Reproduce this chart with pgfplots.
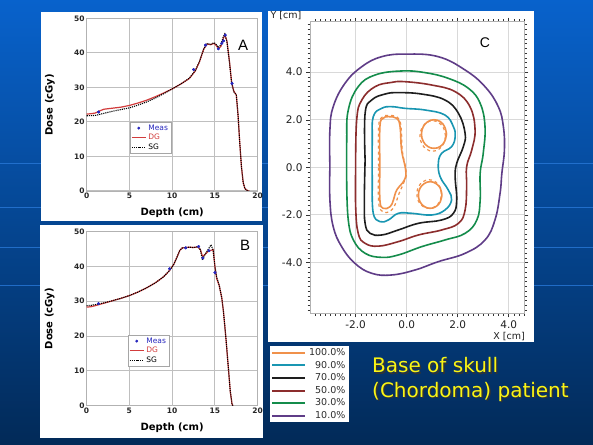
\documentclass[border=0pt]{standalone}
\usepackage{pgfplots}
\pgfplotsset{compat=1.18}
\usepackage{fontspec}
\setmainfont{Liberation Sans}
\newfontfamily\dejavu{DejaVu Sans}
\definecolor{bgtop}{RGB}{8,98,204}
\definecolor{bgbot}{RGB}{2,42,88}
\definecolor{bgline}{RGB}{40,120,215}
\definecolor{dgred}{RGB}{210,60,60}
\definecolor{measblue}{RGB}{40,40,190}
\definecolor{cOrange}{RGB}{240,145,75}
\definecolor{cTeal}{RGB}{25,150,178}
\definecolor{cBlack}{RGB}{30,30,30}
\definecolor{cBrown}{RGB}{140,45,45}
\definecolor{cGreen}{RGB}{20,140,75}
\definecolor{cPurple}{RGB}{95,60,135}
\definecolor{txtyellow}{RGB}{250,245,20}
\pgfplotsset{
  ddplot/.style={
    scale only axis, anchor=south west,
    xmin=0,xmax=20,ymin=0,ymax=50,
    xtick={0,5,10,15,20}, ytick={0,10,20,30,40,50},
    xmajorgrids=true, ymajorgrids=true,
    major grid style={gray!50,line width=1pt},
    axis line style={gray!60, line width=0.8pt},
    major tick length=3pt, tick style={draw=none},
    /pgf/number format/assume math mode=true,
    tick label style={font=\dejavu\bfseries\fontsize{7.5}{9}\selectfont, text=black!85},
    xticklabel style={yshift=1.5pt}, yticklabel style={xshift=1.5pt},
    xlabel={Depth (cm)}, ylabel={Dose (cGy)},
    label style={font=\dejavu\bfseries\fontsize{10}{12}\selectfont},
    xlabel style={at={(axis description cs:0.5,0)}, anchor=center, yshift=-22pt},
    ylabel style={at={(axis description cs:-0.215,0.5)}, anchor=center},
    legend style={font=\dejavu\fontsize{7.5}{9}\selectfont, draw=gray!70, fill=white, inner xsep=1pt, inner ysep=0.5pt, row sep=-1.5pt, anchor=north west, cells={anchor=west}},
    legend image code/.code={\draw[mark repeat=2,mark phase=2,##1] plot coordinates {(0pt,0pt) (7pt,0pt) (14pt,0pt)};},
  },
  dg/.style={dgred, line width=1.2pt, no marks},
  sg/.style={black, densely dotted, line width=1.1pt, no marks},
  meas/.style={measblue, only marks, mark=*, mark size=1.2pt},
  cont/.style={line width=1.6pt, smooth, tension=0.7, no marks},
  contd/.style={line width=1.2pt, smooth, tension=0.7, dashed, no marks, forget plot},
}
\newcommand\vgrid{\pgfplotsinvokeforeach{5,10,15}{\draw[gray!50, line width=1pt] (axis cs:##1,0) -- (axis cs:##1,50);}}
\begin{document}
\begin{tikzpicture}
\useasboundingbox (0,0) rectangle (593pt,444pt);
\shade[top color=bgtop, bottom color=bgbot] (0,0) rectangle (593pt,444pt);
\foreach \yy in {159,197,237,281} \draw[bgline, line width=0.8pt, opacity=0.8] (0,\yy pt) -- (593pt,\yy pt);
\fill[white] (41pt,223pt) rectangle (262pt,432pt);
\fill[white] (40pt,6pt) rectangle (263pt,219pt);
\fill[white] (268pt,102pt) rectangle (534pt,433pt);

% ---------------- Panel A
\begin{axis}[ddplot, at={(86.7pt,253pt)}, width=171pt, height=172.5pt,
  legend style={at={(axis description cs:0.253,0.40)}}]
\vgrid
\addplot[meas] coordinates {(1.4,22.9) (12.5,35.2) (13.9,42.3) (15.4,41.2) (15.8,42.8) (16.0,43.5) (16.2,45.2) (17.0,31.2)};
\addlegendentry{\textcolor{measblue}{Meas}}
\addplot[dg] coordinates {(0,22.3) (0.5,22.4) (1,22.6) (1.5,23.2) (2,23.7) (3,24.0) (4,24.3) (5,24.8) (6,25.5) (7,26.3) (8,27.3) (9,28.4) (10,29.6) (11,31.0) (12,32.6) (12.7,34.8) (13.2,37.5) (13.7,41.2) (14.1,42.6) (14.5,42.4) (14.9,42.8) (15.2,42.0) (15.4,41.3) (15.7,41.9) (15.95,44.0) (16.15,45.3) (16.4,43.5) (16.7,37.5) (16.95,31.5) (17.2,29.0) (17.5,27.8) (17.7,22) (17.9,14) (18.1,7) (18.3,2.5) (18.5,0.7) (18.8,0.1) (19,0)};
\addlegendentry{\textcolor{dgred}{DG}}
\addplot[sg] coordinates {(0,21.8) (1,21.9) (2,22.5) (3,23.1) (4,23.6) (5,24.1) (6,24.9) (7,25.8) (8,26.9) (9,28.2) (10,29.6) (11,31.0) (12,32.7) (12.7,34.9) (13.2,37.6) (13.7,41.3) (14.1,42.7) (14.5,42.5) (14.9,43.0) (15.2,42.3) (15.4,41.6) (15.7,42.4) (15.95,44.5) (16.15,45.5) (16.4,43.3) (16.7,37.3) (16.95,31.3) (17.2,28.8) (17.5,27.8) (17.7,22) (17.9,14) (18.1,7) (18.3,2.5) (18.5,0.7) (18.8,0.1) (19,0)};
\addlegendentry{SG}
\addplot[meas, forget plot] coordinates {(1.4,22.9) (12.5,35.2) (13.9,42.3) (15.4,41.2) (15.8,42.8) (16.0,43.5) (16.2,45.2) (17.0,31.2)};
\end{axis}

% ---------------- Panel B
\begin{axis}[ddplot, at={(86.5pt,38.3pt)}, width=171.2pt, height=174.2pt,
  legend style={at={(axis description cs:0.242,0.406)}}]
\vgrid
\addplot[meas] coordinates {(1.4,29.3) (9.7,39.3) (11.6,45.3) (13.1,45.7) (13.6,42.4) (14.3,44.5) (15.0,38.2)};
\addlegendentry{\textcolor{measblue}{Meas}}
\addplot[dg] coordinates {(0,28.3) (0.5,28.4) (1,28.7) (2,29.4) (3,30.1) (4,30.8) (5,31.6) (6,32.6) (7,33.8) (8,35.2) (9,37.0) (9.7,38.8) (10.2,40.6) (10.6,42.8) (10.9,44.6) (11.2,45.3) (12,45.5) (12.5,45.4) (13,45.6) (13.3,44.8) (13.55,42.9) (13.8,43.3) (14.2,44.3) (14.8,44.8) (15.0,40) (15.2,36.5) (15.5,34.5) (15.8,31) (16.0,27) (16.3,19) (16.6,10) (16.8,4) (17.0,0.5) (17.1,0)};
\addlegendentry{\textcolor{dgred}{DG}}
\addplot[sg] coordinates {(0,28.7) (0.5,28.8) (1,29.0) (2,29.5) (3,30.1) (4,30.8) (5,31.6) (6,32.6) (7,33.8) (8,35.2) (9,37.0) (9.7,38.8) (10.2,40.6) (10.6,42.8) (10.9,44.6) (11.2,45.3) (12,45.5) (12.5,45.4) (13,45.6) (13.3,44.8) (13.55,41.8) (13.8,43.2) (14.2,44.8) (14.55,46.2) (14.8,44.5) (15.0,40) (15.2,37.0) (15.5,34.6) (15.8,31) (16.0,27) (16.3,19) (16.6,10) (16.8,4) (17.0,0.5) (17.1,0)};
\addlegendentry{SG}
\addplot[meas, forget plot] coordinates {(1.4,29.3) (9.7,39.3) (11.6,45.3) (13.1,45.7) (13.6,42.4) (14.3,44.5) (15.0,38.2)};
\end{axis}

% ---------------- Panel C
\begin{axis}[at={(310pt,130.7pt)}, anchor=south west, scale only axis,
  width=214.3pt, height=291.6pt,
  xmin=-3.79, xmax=4.61, ymin=-6.13, ymax=6.12,
  xtick={-2,0,2,4}, xticklabels={-2.0,0.0,2.0,4.0},
  ytick={-4,-2,0,2,4}, yticklabels={-4.0,-2.0,0.0,2.0,4.0},
  minor xtick={-3.6,-3.4,...,4.6}, minor ytick={-6,-5.8,...,6},
  grid=major, major grid style={gray!30, line width=1pt},
  tick align=outside, major tick length=4pt, minor tick length=2.5pt,
  tick style={gray!40!black, line width=0.5pt},
  axis line style={gray!60, line width=0.6pt},
  /pgf/number format/assume math mode=true,
  tick label style={font=\dejavu\fontsize{10.5}{12}\selectfont, text=gray!25!black},
  legend style={at={(axis description cs:-0.187,-0.112)}, anchor=north west, draw=none, fill=white,
    font=\dejavu\fontsize{9.5}{10}\selectfont, text=gray!35!black, inner xsep=1pt, inner ysep=0.5pt, row sep=0pt,
    nodes={inner xsep=3pt, inner ysep=2pt}},
  legend cell align=right,
  legend image code/.code={\draw[#1, solid, line width=2pt] (0pt,0pt) -- (33pt,0pt);},
]
\addplot[cont, cOrange] coordinates {(-1.05,0.03) (-1.05,1.71) (-0.92,2.06) (-0.72,2.13) (-0.39,2.06) (-0.26,1.71) (-0.2,0.73) (-0.04,-0.11) (-0.09,-0.53) (-0.39,-0.95) (-0.52,-1.37) (-0.65,-1.65) (-0.92,-1.72) (-1.05,-1.37) (-1.05,0.03)};
\addlegendentry{100.0\%}
\addplot[cont, cTeal] coordinates {(-1.35,-0.81) (-1.35,1.15) (-1.31,2.13) (-0.98,2.48) (-0.59,2.55) (-0.07,2.48) (0.72,2.41) (1.50,2.20) (1.83,1.71) (1.90,1.29) (1.76,0.87) (1.37,0.59) (1.24,0.17) (1.31,-0.39) (1.63,-0.95) (1.76,-1.37) (1.50,-1.79) (0.98,-2.0) (0.2,-1.93) (-0.33,-1.93) (-0.72,-2.21) (-1.05,-2.28) (-1.31,-1.93) (-1.35,-0.81)};
\addlegendentry{90.0\%}
\addplot[cont, cBlack] coordinates {(-1.63,0.31) (-1.63,2.27) (-1.37,2.83) (-0.85,3.08) (-0.33,3.14) (0.59,3.08) (1.50,2.83) (2.03,2.27) (2.29,1.43) (2.22,0.87) (1.96,0.17) (1.90,-0.39) (1.96,-1.37) (1.83,-1.93) (1.37,-2.21) (0.46,-2.35) (-0.33,-2.63) (-0.98,-2.84) (-1.44,-2.77) (-1.63,-2.35) (-1.66,-1.37) (-1.63,0.31)};
\addlegendentry{70.0\%}
\addplot[cont, cBrown] coordinates {(-2.0,0.03) (-1.96,1.99) (-1.76,2.83) (-1.24,3.39) (-0.59,3.57) (-0.07,3.60) (0.98,3.46) (1.90,3.18) (2.48,2.55) (2.68,1.57) (2.55,0.73) (2.35,0.03) (2.35,-0.81) (2.29,-1.79) (2.03,-2.35) (1.37,-2.63) (0.46,-2.84) (-0.33,-3.12) (-1.11,-3.31) (-1.63,-3.19) (-1.90,-2.77) (-2.0,-1.65) (-2.0,0.03)};
\addlegendentry{50.0\%}
\addplot[cont, cGreen] coordinates {(-2.35,-0.81) (-2.35,1.15) (-2.29,2.41) (-1.90,3.39) (-1.24,3.88) (-0.2,4.05) (0.72,3.98) (1.63,3.74) (2.42,3.32) (2.88,2.69) (3.07,1.71) (3.0,0.59) (2.88,-0.25) (2.88,-1.37) (2.75,-2.21) (2.29,-2.77) (1.50,-3.05) (0.59,-3.33) (-0.33,-3.68) (-0.98,-3.78) (-1.63,-3.61) (-2.09,-3.05) (-2.29,-2.21) (-2.35,-0.81)};
\addlegendentry{30.0\%}
\addplot[cont, cPurple] coordinates {(-3.01,0.03) (-3.01,1.57) (-2.88,2.55) (-2.42,3.53) (-1.76,4.23) (-0.98,4.65) (0,4.76) (1.24,4.65) (2.29,4.09) (3.07,3.39) (3.59,2.55) (3.79,1.71) (3.83,0.73) (3.73,-0.25) (3.66,-1.09) (3.46,-2.21) (3.07,-3.05) (2.29,-3.61) (1.24,-3.96) (0.33,-4.31) (-0.59,-4.52) (-1.37,-4.45) (-2.03,-4.03) (-2.55,-3.33) (-2.88,-2.49) (-3.01,-1.37) (-3.01,0.03)};
\addlegendentry{10.0\%}
\addplot[cont, cOrange, forget plot] coordinates {(1.56,1.40) (1.49,1.70) (1.32,1.92) (1.07,2.0) (0.825,1.92) (0.646,1.70) (0.58,1.40) (0.646,1.10) (0.825,0.88) (1.07,0.80) (1.32,0.88) (1.49,1.10) (1.56,1.40)};
\addplot[cont, cOrange, forget plot] coordinates {(1.38,-1.16) (1.32,-0.88) (1.15,-0.68) (0.92,-0.60) (0.69,-0.68) (0.52,-0.88) (0.46,-1.16) (0.52,-1.44) (0.69,-1.645) (0.92,-1.72) (1.15,-1.645) (1.32,-1.44) (1.38,-1.16)};
\addplot[contd, cOrange] coordinates {(-1.1,0.03) (-1.1,1.7) (-0.97,2.1) (-0.75,2.18) (-0.36,2.1) (-0.22,1.7) (-0.17,0.7) (-0.02,-0.2) (-0.1,-0.6) (-0.3,-1.1) (-0.45,-1.55) (-0.65,-1.85) (-0.95,-1.85) (-1.1,-1.45) (-1.1,0.03)};
\addplot[contd, cOrange] coordinates {(1.52,1.32) (1.45,1.64) (1.27,1.87) (1.02,1.96) (0.77,1.87) (0.59,1.64) (0.52,1.32) (0.59,1.0) (0.77,0.77) (1.02,0.68) (1.27,0.77) (1.45,1.0) (1.52,1.32)};
\addplot[contd, cOrange] coordinates {(1.36,-1.12) (1.30,-0.82) (1.12,-0.60) (0.88,-0.52) (0.64,-0.60) (0.46,-0.82) (0.40,-1.12) (0.46,-1.42) (0.64,-1.64) (0.88,-1.72) (1.12,-1.64) (1.30,-1.42) (1.36,-1.12)};
\end{axis}

% labels
\node[font=\fontsize{15}{15}\selectfont] at (243pt,399pt) {A};
\node[font=\fontsize{15}{15}\selectfont] at (245pt,199pt) {B};
\node[font=\fontsize{14}{14}\selectfont] at (485pt,401pt) {C};
\node[font=\dejavu\fontsize{9.5}{10}\selectfont, text=gray!25!black] at (286pt,428pt) {Y [cm]};
\node[font=\dejavu\fontsize{9.5}{10}\selectfont, text=gray!25!black] at (509pt,107pt) {X [cm]};
\node[anchor=base west, inner sep=0pt, font=\dejavu\fontsize{20}{20}\selectfont, text=black!80] at (373.4pt,70pt) {Base of skull};
\node[anchor=base west, inner sep=0pt, font=\dejavu\fontsize{20}{20}\selectfont, text=txtyellow] at (372pt,71.4pt) {Base of skull};
\node[anchor=base west, inner sep=0pt, font=\dejavu\fontsize{20}{20}\selectfont, text=black!80] at (373.4pt,45.3pt) {(Chordoma) patient};
\node[anchor=base west, inner sep=0pt, font=\dejavu\fontsize{20}{20}\selectfont, text=txtyellow] at (372pt,46.7pt) {(Chordoma) patient};
\end{tikzpicture}
\end{document}
